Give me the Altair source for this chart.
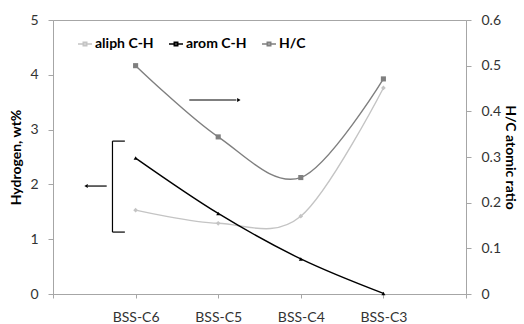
import altair as alt
import pandas as pd

categories = ["BSS-C6", "BSS-C5", "BSS-C4", "BSS-C3"]
positions = [1, 2, 3, 4]
aliph_ch = [1.53, 1.29, 1.42, 3.76]
arom_ch = [2.48, 1.47, 0.64, 0.01]
hc_ratio = [0.50, 0.344, 0.255, 0.471]
series_names = ["aliph C-H", "arom C-H", "H/C"]
series_colors = ["#c4c4c4", "#000000", "#7f7f7f"]
series_shapes = ["diamond", "triangle-up", "square"]

left_df = pd.DataFrame(
    [{"series": "aliph C-H", "pos": p, "value": v} for p, v in zip(positions, aliph_ch)]
    + [{"series": "arom C-H", "pos": p, "value": v} for p, v in zip(positions, arom_ch)]
)
right_df = pd.DataFrame(
    [{"series": "H/C", "pos": p, "value": v} for p, v in zip(positions, hc_ratio)]
)

# annotation segments (in data units of category index / hydrogen wt%)
seg_df = pd.DataFrame([
    {"pos": 1.65, "pos2": 2.22, "value": 3.54, "value2": 3.54},
    {"pos": 0.72, "pos2": 0.72, "value": 1.13, "value2": 2.79},
    {"pos": 0.72, "pos2": 0.87, "value": 2.79, "value2": 2.79},
    {"pos": 0.72, "pos2": 0.87, "value": 1.13, "value2": 1.13},
    {"pos": 0.42, "pos2": 0.65, "value": 1.97, "value2": 1.97},
])
head_right_df = pd.DataFrame([{"pos": 2.25, "value": 3.54}])
head_left_df = pd.DataFrame([{"pos": 0.40, "value": 1.97}])

label_array = "[''," + ",".join(f"'{c}'" for c in categories) + ",'']"

font = "Lato"
axis_gray = "#a6a6a6"

x_scale = alt.Scale(domain=[0, 5], nice=False, zero=False)
x_axis = alt.Axis(
    values=[0, 1, 2, 3, 4, 5],
    labelExpr=label_array + "[datum.value]",
    title=None,
    tickSize=4,
    labelPadding=12,
)


def xe():
    return alt.X("pos:Q", scale=x_scale, axis=x_axis, title=None)


color_scale = alt.Scale(domain=series_names, range=series_colors)

legend = alt.Legend(
    title=None,
    orient="none",
    legendX=24,
    legendY=16,
    direction="horizontal",
    symbolType="M-1,0L1,0M-0.25,-0.25L0.25,-0.25L0.25,0.25L-0.25,0.25Z",
    symbolSize=196,
    symbolStrokeWidth=1.5,
    labelFont=font,
    labelFontSize=14,
    labelFontWeight="bold",
    labelColor="#000000",
    labelOffset=2,
    columnPadding=12,
)

y_left_scale = alt.Scale(domain=[0, 5], nice=False)
y_left_axis = alt.Axis(
    values=[0, 1, 2, 3, 4, 5],
    format="d",
    title="Hydrogen, wt%",
    tickSize=5,
    labelPadding=10,
    titlePadding=6,
)


def yl():
    return alt.Y("value:Q", scale=y_left_scale, axis=y_left_axis, title="Hydrogen, wt%")


left_lines = alt.Chart(left_df).mark_line(interpolate="cardinal", strokeWidth=1.4).encode(
    x=xe(),
    y=yl(),
    color=alt.Color("series:N", scale=color_scale, legend=legend),
)
aliph_points = alt.Chart(left_df).transform_filter(
    alt.datum.series == series_names[0]
).mark_point(filled=True, opacity=1, size=22, shape=series_shapes[0], color=series_colors[0]).encode(
    x=xe(), y=yl()
)
arom_points = alt.Chart(left_df).transform_filter(
    alt.datum.series == series_names[1]
).mark_point(filled=True, opacity=1, size=16, shape=series_shapes[1], color=series_colors[1]).encode(
    x=xe(), y=yl()
)
segs = alt.Chart(seg_df).mark_rule(color="#000000", strokeWidth=1.2).encode(
    x=xe(), x2="pos2:Q", y=yl(), y2="value2:Q"
)
head_r = alt.Chart(head_right_df).mark_point(
    filled=True, opacity=1, size=16, color="#000000", shape="triangle-right"
).encode(x=xe(), y=yl())
head_l = alt.Chart(head_left_df).mark_point(
    filled=True, opacity=1, size=16, color="#000000", shape="triangle-left"
).encode(x=xe(), y=yl())

left = alt.layer(left_lines, aliph_points, arom_points, segs, head_r, head_l)

y_right_scale = alt.Scale(domain=[0, 0.6], nice=False)
y_right_axis = alt.Axis(
    orient="right",
    values=[0, 0.1, 0.2, 0.3, 0.4, 0.5, 0.6],
    format=".1~f",
    title="H/C atomic ratio",
    tickSize=5,
    labelPadding=10,
    titlePadding=2,
)


def yr():
    return alt.Y("value:Q", scale=y_right_scale, axis=y_right_axis, title="H/C atomic ratio")


right_line = alt.Chart(right_df).mark_line(interpolate="cardinal", strokeWidth=1.4).encode(
    x=xe(),
    y=yr(),
    color=alt.Color("series:N", scale=color_scale, legend=legend),
)
right_points = alt.Chart(right_df).mark_point(
    filled=True, opacity=1, size=26, shape=series_shapes[2], color=series_colors[2]
).encode(x=xe(), y=yr())
right = alt.layer(right_line, right_points)

chart = alt.layer(left, right).resolve_scale(y="independent").properties(
    width=413,
    height=274,
    autosize=alt.AutoSizeParams(type="none"),
    padding={"left": 53, "top": 20, "right": 58, "bottom": 30},
    background="#ffffff",
).configure_view(
    stroke=axis_gray, strokeWidth=1
).configure_axis(
    grid=False,
    domainColor=axis_gray,
    tickColor=axis_gray,
    labelFont=font,
    labelFontSize=14,
    labelColor="#333333",
    titleFont=font,
    titleFontSize=14,
    titleFontWeight="bold",
    titleColor="#000000",
)

chart.save("out.html", embed_options={"renderer": "svg", "actions": False})
